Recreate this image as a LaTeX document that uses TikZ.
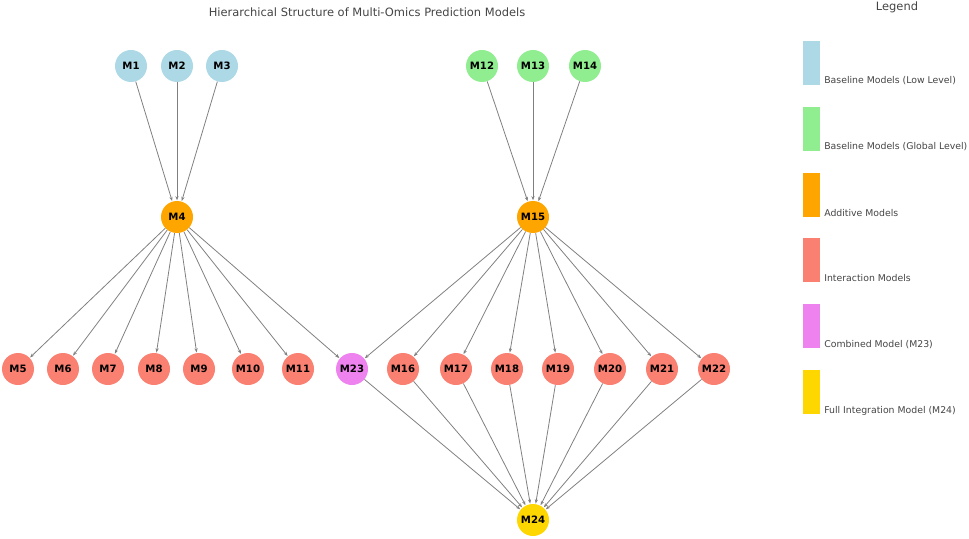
\documentclass[tikz,border=0pt]{standalone}
\usepackage{fontspec}
\setmainfont{DejaVu Sans}
\usepackage{xcolor}
\usepackage{tikz}
\usetikzlibrary{arrows.meta}
\definecolor{low}{HTML}{ADD8E6}
\definecolor{glob}{HTML}{90EE90}
\definecolor{addv}{HTML}{FFA500}
\definecolor{inter}{HTML}{FA8072}
\definecolor{comb}{HTML}{EE82EE}
\definecolor{full}{HTML}{FFD700}
\definecolor{edge}{HTML}{808080}
\definecolor{txt}{HTML}{444444}
\tikzset{
  model/.style={circle, minimum size=24pt, inner sep=0pt, font=\fontsize{7.6}{9}\selectfont\bfseries, text=black},
  link/.style={draw=edge, line width=0.6pt, -{Stealth[length=3.2pt,width=2.4pt]}, shorten >=0.3pt},
  swatch/.style={draw=none, minimum width=12.75pt, minimum height=33pt, inner sep=0pt, anchor=south west},
  leglab/.style={text=txt, font=\fontsize{7}{8}\selectfont, anchor=base west, inner sep=0pt},
}
\begin{document}
\begin{tikzpicture}[x=0.75pt, y=-0.75pt]
  \useasboundingbox (0,0) rectangle (969,538);
  \node[text=txt, font=\fontsize{8.6}{10}\selectfont] (title) at (367,12) {Hierarchical Structure of Multi-Omics Prediction Models};
  % top level
  \foreach \n/\x in {1/131,2/177,3/222} {\node[model, fill=low] (m\n) at (\x,66) {M\n};}
  \foreach \n/\x in {12/482,13/533,14/585} {\node[model, fill=glob] (m\n) at (\x,66) {M\n};}
  \node[model, fill=addv] (m4) at (177,217) {M4};
  \node[model, fill=addv] (m15) at (533,217) {M15};
  % interaction level
  \foreach \n/\x in {5/18,6/63,7/108,8/154,9/199,10/248,11/298,16/403,17/456,18/507,19/558,20/610,21/662,22/714} {\node[model, fill=inter] (m\n) at (\x,369) {M\n};}
  \node[model, fill=comb] (m23) at (352,369) {M23};
  \node[model, fill=full] (m24) at (533,520) {M24};
  % edges
  \foreach \s in {1,2,3} {\draw[link] (m\s) -- (m4);}
  \foreach \s in {12,13,14} {\draw[link] (m\s) -- (m15);}
  \foreach \t in {5,...,11,23} {\draw[link] (m4) -- (m\t);}
  \foreach \t in {23,16,17,...,22} {\draw[link] (m15) -- (m\t);}
  \foreach \s in {23,16,17,...,22} {\draw[link] (m\s) -- (m24);}
  % legend
  \node[text=txt, font=\fontsize{8.6}{10}\selectfont] (legtitle) at (897,7) {Legend};
  \foreach \c/\y/\l [count=\i] in {low/85/Baseline Models (Low Level), glob/151/Baseline Models (Global Level), addv/217/Additive Models, inter/282/Interaction Models, comb/348/Combined Model (M23), full/414/Full Integration Model (M24)} {
    \node[swatch, fill=\c] (sw\i) at (803,\y) {};
    \node[leglab] (lab\i) at (824,\y-1) {\l};
  }
\end{tikzpicture}
\end{document}
